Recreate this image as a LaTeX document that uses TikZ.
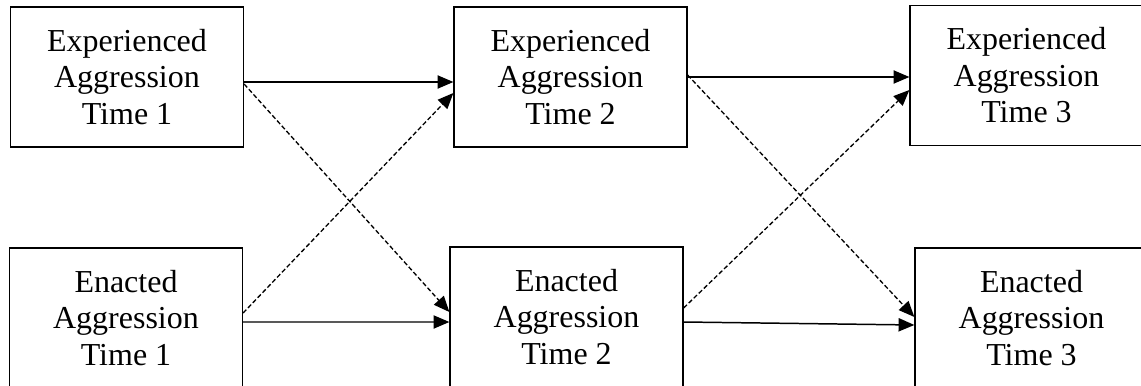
\documentclass[tikz,border=0pt]{standalone}
\usepackage{fontspec}
\setmainfont{Liberation Serif}
\usetikzlibrary{arrows.meta}

\begin{document}
\begin{tikzpicture}[
    box/.style={draw,line width=0.7pt,minimum width=4.66cm,minimum height=2.8cm,
      inner sep=0pt,align=center,font=\fontsize{18.2}{20.8}\selectfont},
    path/.style={line width=0.85pt,-{Triangle[length=9pt,width=7.5pt]}},
    cross/.style={path,line width=0.75pt,dash pattern=on 2.6pt off 1.4pt}]

  % bounding box = reference frame (boxes on the right and bottom are cut)
  \useasboundingbox (0,0) rectangle (22.82,7.7);

  % experienced aggression
  \node[box] (exp1) at (2.54,6.16) {Experienced\\Aggression\\Time 1};
  \node[box] (exp2) at (11.41,6.16) {Experienced\\Aggression\\Time 2};
  \node[box] (exp3) at (20.53,6.19) {Experienced\\Aggression\\Time 3};

  % enacted aggression
  \node[box] (ena1) at (2.52,1.34) {Enacted\\Aggression\\Time 1};
  \node[box] (ena2) at (11.33,1.36) {Enacted\\Aggression\\Time 2};
  \node[box] (ena3) at (20.63,1.34) {Enacted\\Aggression\\Time 3};

  % stability paths
  \draw[path] ([yshift=-0.1cm]exp1.east) -- ([yshift=-0.1cm]exp2.west);
  \draw[path] (exp2.east) -- ([yshift=-0.03cm]exp3.west);
  \draw[path] ([yshift=-0.08cm]ena1.east) -- ([yshift=-0.1cm]ena2.west);
  \draw[path] ([yshift=-0.1cm]ena2.east) -- ([yshift=-0.14cm]ena3.west);

  % cross-lagged paths
  \draw[cross] ([yshift=-0.14cm]exp1.east) -- ([yshift=0.1cm]ena2.west);
  \draw[cross] ([yshift=0.1cm]ena1.east) -- ([yshift=-0.32cm]exp2.west);
  \draw[cross] ([yshift=0.04cm]exp2.east) -- ([yshift=0.02cm]ena3.west);
  \draw[cross] ([yshift=0.18cm]ena2.east) -- ([yshift=-0.29cm]exp3.west);
\end{tikzpicture}
\end{document}
